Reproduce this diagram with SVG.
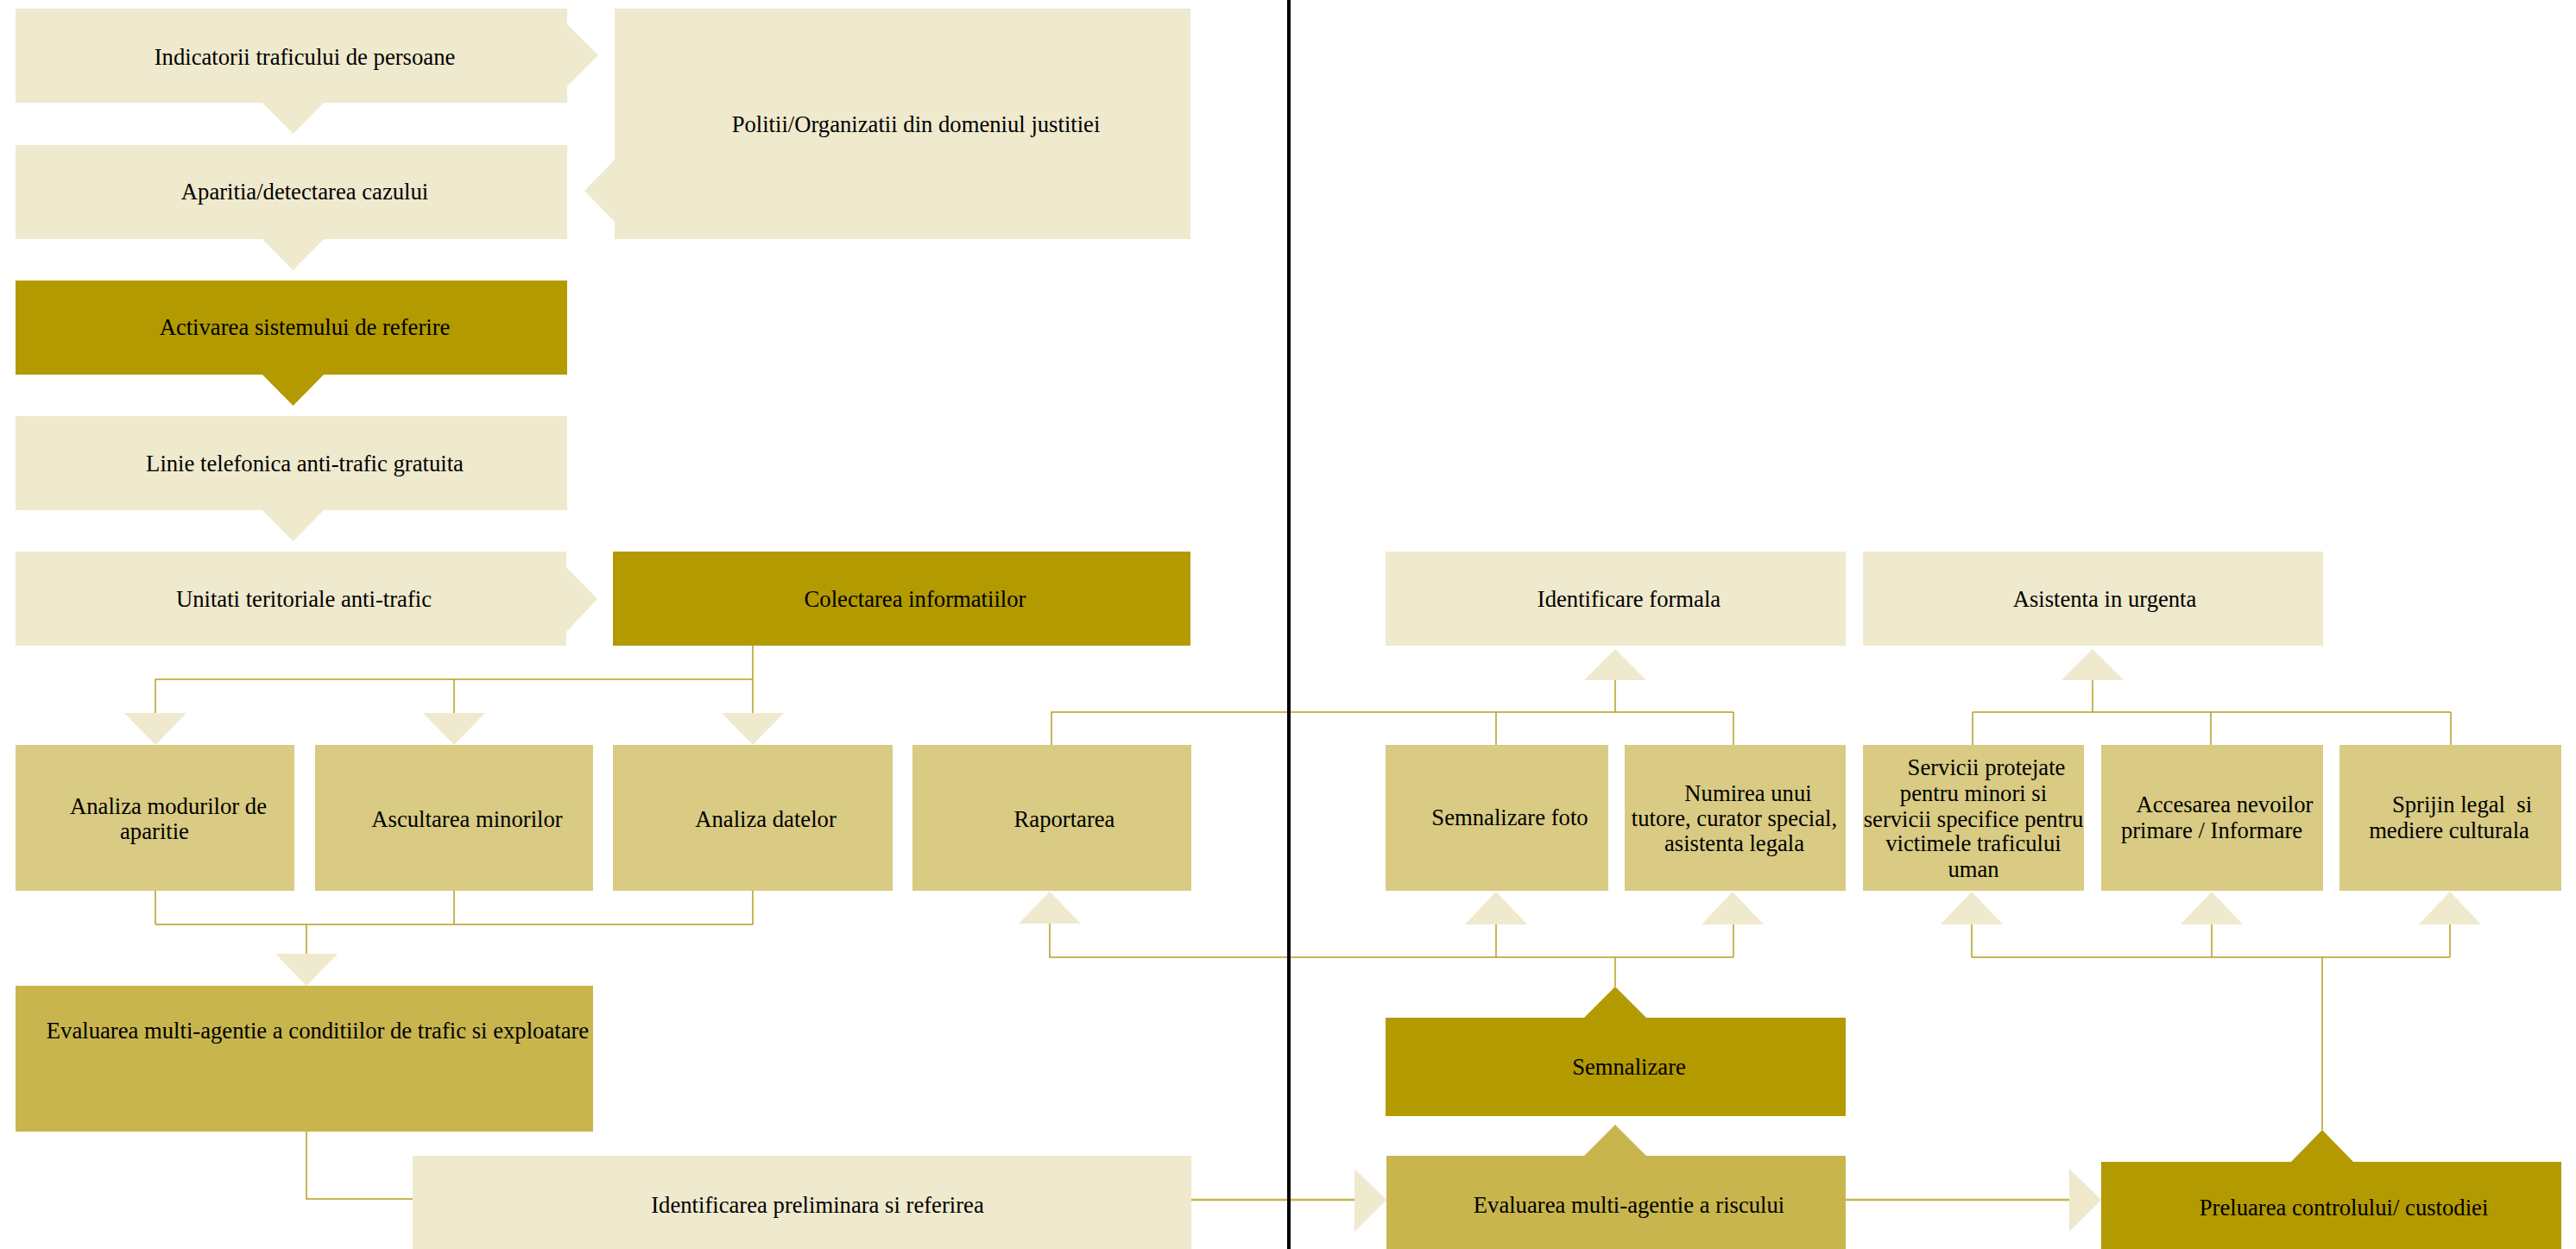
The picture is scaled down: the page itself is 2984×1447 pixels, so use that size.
<svg xmlns="http://www.w3.org/2000/svg" width="2984" height="1447" viewBox="0 0 2984 1447">
<style>
.c1{fill:#EFE9CD}
.c2{fill:#D9CB83}
.c3{fill:#C8B54E}
.c4{fill:#B39A00}
.t{font-family:"Liberation Serif","Times New Roman",serif;font-size:26.67px;fill:#000;text-anchor:middle}
.ln{fill:none;stroke:#B5A021;stroke-width:1.5}
.lh{fill:none;stroke:#C8B54E;stroke-width:2.5}
</style>
<rect width="2984" height="1447" fill="#FFFFFF"/>
<g id="connectors">
<path class="ln" d="M872,748 V826 M180,787 H872 M180,787 V826 M526,787 V826"/>
<path class="ln" d="M180,1032 V1071 M526,1032 V1071 M872,1032 V1071 M180,1071 H872 M355,1071 V1105"/>
<path class="ln" d="M355,1311 V1389 H478"/>
<path class="lh" d="M1380,1390 H1569"/>
<path class="ln" d="M1216,1070 V1109 H2008 M1733,1109 V1071 M2008,1109 V1071 M1871,1109 V1143"/>
<path class="ln" d="M1218,863 V825 H2008 M1733,825 V863 M2008,825 V863 M1871,825 V788"/>
<path class="ln" d="M2285,825 H2839 M2285,825 V863 M2561,825 V863 M2839,825 V863 M2424,825 V788"/>
<path class="ln" d="M2284,1109 H2838 M2284,1109 V1071 M2562,1109 V1071 M2838,1109 V1071 M2690,1109 V1309"/>
<path class="lh" d="M2138,1390 H2397"/>
<!-- arrowheads -->
<polygon class="c1" points="304,119 375,119 339.5,155"/>
<polygon class="c1" points="304,277 375,277 339.5,313"/>
<polygon class="c4" points="304,434 375,434 339.5,470"/>
<polygon class="c1" points="304,591 375,591 339.5,627"/>
<polygon class="c1" points="657,28 657,100 693,64"/>
<polygon class="c1" points="712,185 712,257 677,221"/>
<polygon class="c1" points="656,657 656,732 692,694"/>
<polygon class="c1" points="144,826 216,826 180,863"/>
<polygon class="c1" points="490,826 562,826 526,863"/>
<polygon class="c1" points="836,826 908,826 872,863"/>
<polygon class="c1" points="319,1105 391,1105 355,1142"/>
<polygon class="c1" points="1180,1070 1252,1070 1216,1033"/>
<polygon class="c1" points="1697,1071 1769,1071 1733,1033"/>
<polygon class="c1" points="1971,1071 2043,1071 2007,1033"/>
<polygon class="c1" points="2248,1071 2320,1071 2284,1033"/>
<polygon class="c1" points="2526,1071 2598,1071 2562,1033"/>
<polygon class="c1" points="2802,1071 2874,1071 2838,1033"/>
<polygon class="c1" points="1835,788 1907,788 1871,752"/>
<polygon class="c1" points="2388,788 2460,788 2424,752"/>
<polygon class="c4" points="1835,1179 1907,1179 1871,1143"/>
<polygon class="c3" points="1835,1339 1907,1339 1871,1303"/>
<polygon class="c4" points="2654,1346 2726,1346 2690,1309"/>
<polygon class="c1" points="1569,1354 1569,1427 1606,1390"/>
<polygon class="c1" points="2397,1354 2397,1427 2434,1390"/>
</g>
<line x1="1493" y1="0" x2="1493" y2="1447" stroke="#000" stroke-width="4"/>
<g id="n1"><rect class="c1" x="18" y="10" width="639" height="109"/><text class="t" x="353" y="75">Indicatorii traficului de persoane</text></g>
<g id="n2"><rect class="c1" x="712" y="10" width="667" height="267"/><text class="t" x="1061" y="153">Politii/Organizatii din domeniul justitiei</text></g>
<g id="n3"><rect class="c1" x="18" y="168" width="639" height="109"/><text class="t" x="353" y="231">Aparitia/detectarea cazului</text></g>
<g id="n4"><rect class="c4" x="18" y="325" width="639" height="109"/><text class="t" x="353" y="388">Activarea sistemului de referire</text></g>
<g id="n5"><rect class="c1" x="18" y="482" width="639" height="109"/><text class="t" x="353" y="546">Linie telefonica anti-trafic gratuita</text></g>
<g id="n6"><rect class="c1" x="18" y="639" width="638" height="109"/><text class="t" x="352" y="703">Unitati teritoriale anti-trafic</text></g>
<g id="n7"><rect class="c4" x="710" y="639" width="669" height="109"/><text class="t" x="1060" y="703">Colectarea informatiilor</text></g>
<g id="n8"><rect class="c2" x="18" y="863" width="323" height="169"/><text class="t" x="195" y="943">Analiza modurilor de</text><text class="t" x="179" y="972">aparitie</text></g>
<g id="n9"><rect class="c2" x="365" y="863" width="322" height="169"/><text class="t" x="541" y="958">Ascultarea minorilor</text></g>
<g id="n10"><rect class="c2" x="710" y="863" width="324" height="169"/><text class="t" x="887" y="958">Analiza datelor</text></g>
<g id="n11"><rect class="c2" x="1057" y="863" width="323" height="169"/><text class="t" x="1233" y="958">Raportarea</text></g>
<g id="n12"><rect class="c3" x="18" y="1142" width="669" height="169"/><text class="t" x="368" y="1203">Evaluarea multi-agentie a conditiilor de trafic si exploatare</text></g>
<g id="n13"><rect class="c1" x="478" y="1339" width="902" height="108"/><text class="t" x="947" y="1405">Identificarea preliminara si referirea</text></g>
<g id="n14"><rect class="c1" x="1605" y="639" width="533" height="109"/><text class="t" x="1887" y="703">Identificare formala</text></g>
<g id="n15"><rect class="c1" x="2158" y="639" width="533" height="109"/><text class="t" x="2438" y="703">Asistenta in urgenta</text></g>
<g id="n16"><rect class="c2" x="1605" y="863" width="258" height="169"/><text class="t" x="1749" y="956">Semnalizare foto</text></g>
<g id="n17"><rect class="c2" x="1882" y="863" width="256" height="169"/><text class="t" x="2025" y="928">Numirea unui</text><text class="t" x="2009" y="957">tutore, curator special,</text><text class="t" x="2009" y="986">asistenta legala</text></g>
<g id="n18"><rect class="c2" x="2158" y="863" width="256" height="169"/><text class="t" x="2301" y="898">Servicii protejate</text><text class="t" x="2286" y="928">pentru minori si</text><text class="t" x="2286" y="958">servicii specifice pentru</text><text class="t" x="2286" y="986">victimele traficului</text><text class="t" x="2286" y="1016">uman</text></g>
<g id="n19"><rect class="c2" x="2434" y="863" width="257" height="169"/><text class="t" x="2577" y="941">Accesarea nevoilor</text><text class="t" x="2562" y="971">primare / Informare</text></g>
<g id="n20"><rect class="c2" x="2710" y="863" width="257" height="169"/><text class="t" x="2852" y="941" xml:space="preserve">Sprijin legal  si</text><text class="t" x="2837" y="971">mediere culturala</text></g>
<g id="n21"><rect class="c4" x="1605" y="1179" width="533" height="114"/><text class="t" x="1887" y="1245">Semnalizare</text></g>
<g id="n22"><rect class="c3" x="1606" y="1339" width="532" height="108"/><text class="t" x="1887" y="1405">Evaluarea multi-agentie a riscului</text></g>
<g id="n23"><rect class="c4" x="2434" y="1346" width="533" height="101"/><text class="t" x="2715" y="1408">Preluarea controlului/ custodiei</text></g>
</svg>
